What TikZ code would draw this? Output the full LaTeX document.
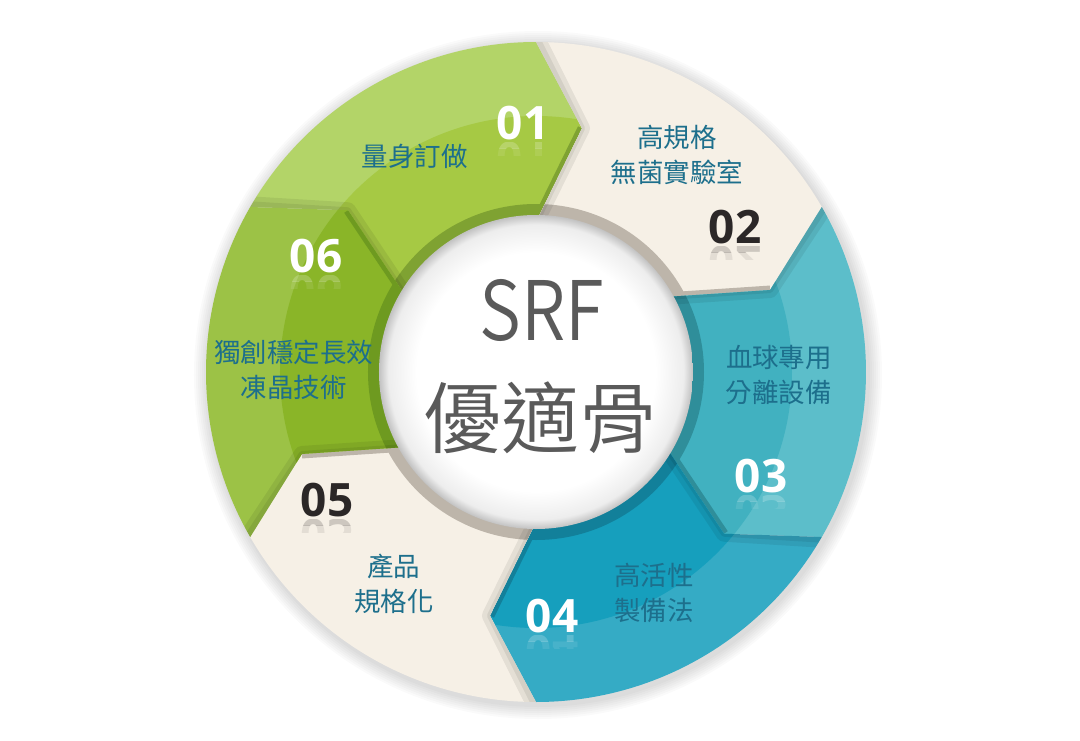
\documentclass[tikz,border=0pt]{standalone}
\usepackage{fontspec}
\newfontfamily\cjk{Noto Sans CJK TC}
\IfFontExistsTF{Noto Sans CJK TC DemiLight}
  {\newfontfamily\cjklight{Noto Sans CJK TC DemiLight}}
  {\IfFontExistsTF{Noto Sans CJK TC Light}
    {\newfontfamily\cjklight{Noto Sans CJK TC Light}}
    {\newfontfamily\cjklight{Noto Sans CJK TC}}}
\newfontfamily\numfont{Open Sans}
\usepackage{tikz}
\definecolor{grnA}{HTML}{B3D468}
\definecolor{grnB}{HTML}{A6C944}
\definecolor{grnC}{HTML}{7FA232}
\definecolor{crmA}{HTML}{F6F0E6}
\definecolor{crmC}{HTML}{BDB5AA}
\definecolor{tlA}{HTML}{5CBECA}
\definecolor{tlB}{HTML}{41B1C0}
\definecolor{tlC}{HTML}{2F8E9A}
\definecolor{tdA}{HTML}{35ABC5}
\definecolor{tdB}{HTML}{169FBD}
\definecolor{tdC}{HTML}{12809A}
\definecolor{gdA}{HTML}{9CC246}
\definecolor{gdB}{HTML}{8AB528}
\definecolor{gdC}{HTML}{6E9A20}
\definecolor{txtblue}{HTML}{1D6F8C}
\definecolor{numdark}{HTML}{2B2727}
\definecolor{midgray}{HTML}{5A5A5A}
\pgfdeclareradialshading{innerglow}{\pgfpoint{0bp}{0bp}}{color(0bp)=(white); color(19bp)=(white); color(23.5bp)=(black!7); color(25bp)=(black!24); color(50bp)=(black!24)}
\tikzset{
  seg text/.style={
    text=txtblue,
    font=\cjk\fontsize{26.5}{35}\selectfont,
    align=center,
    inner sep=0pt
  },
  num/.style={
    font=\numfont\bfseries\fontsize{46}{46}\selectfont,
    inner sep=0pt,
    anchor=base
  },
  mid text/.style={
    text=midgray,
    inner sep=0pt
  }
}

\begin{document}
\begin{tikzpicture}[x=1pt,y=1pt]
\fill[white] (-536,-368) rectangle (544,372);
\useasboundingbox (-536,-368) rectangle (544,372);

% soft shadow round the ring
\foreach \s in {2,4,...,14}
  \fill[black, opacity=.02] (2,-3) circle ({330+\s});

% six arrow segments
\foreach \a/\cout/\cin/\cbev in {150/grnA/grnB/grnC, 90/crmA/crmA/crmC, 30/tlA/tlB/tlC,
    -30/tdA/tdB/tdC, -90/crmA/crmA/crmC, -150/gdA/gdB/gdC}{
  \begin{scope}
    \clip (\a:330) arc[start angle=\a, delta angle=-60, radius=330]
      -- ({\a-70.7}:248) -- ({\a-60}:150) arc[start angle={\a-60}, delta angle=60, radius=150]
      -- ({\a-10.7}:248) -- cycle;
    \fill[\cout] (0,0) circle (332);
    \fill[\cin] (0,0) circle (256);
    \draw[\cbev, line width=22] (0,0) circle (157);
    \draw[\cbev, line width=9] ({\a-60}:150) -- ({\a-70.7}:248);
    % shadow of the arrow before
    \draw[black, opacity=.07, line width=16, line join=round] (\a:336) -- ({\a-10.7}:248) -- (\a:150);
    \draw[black, opacity=.07, line width=6, line join=round] (\a:336) -- ({\a-10.7}:248) -- (\a:150);
  \end{scope}
}

% centre disc
\shade[shading=innerglow] (0,0) circle (157);

% Text Node
\node[mid text, font=\cjklight\fontsize{82}{82}\selectfont, xscale=.86, transform shape] (srf) at (6,62) {SRF};
\node[mid text, font=\cjklight\fontsize{78}{78}\selectfont] (name) at (5,-46) {優適骨};

% step labels
\node[seg text] (t01) at (-121,216) {量身訂做};
\node[seg text] (t02) at (141,217) {高規格\\無菌實驗室};
\node[seg text] (t03) at (243,-3) {血球專用\\分離設備};
\node[seg text] (t04) at (118,-221) {高活性\\製備法};
\node[seg text] (t05) at (-142,-212) {產品\\規格化};
\node[seg text] (t06) at (-242,2) {獨創穩定長效\\凍晶技術};

% step numbers with reflection
\foreach \x/\y/\n/\c in {-13/232.5/01/white, 199/128.5/02/numdark, 225/-120.5/03/white,
    16/-260.5/04/white, -209/-144.5/05/numdark, -220/99.5/06/white}{
  \node[num, text=\c] (n\n) at (\x,\y) {\n};
  \begin{scope}
    \clip (\x-40,\y-3) rectangle (\x+40,\y-9);
    \node[num, text=\c, opacity=.2, yscale=-1, transform shape] (r\n) at (\x,\y-3) {\n};
  \end{scope}
  \begin{scope}
    \clip (\x-40,\y-9) rectangle (\x+40,\y-16);
    \node[num, text=\c, opacity=.09, yscale=-1, transform shape] (s\n) at (\x,\y-3) {\n};
  \end{scope}
}

\end{tikzpicture}
\end{document}
